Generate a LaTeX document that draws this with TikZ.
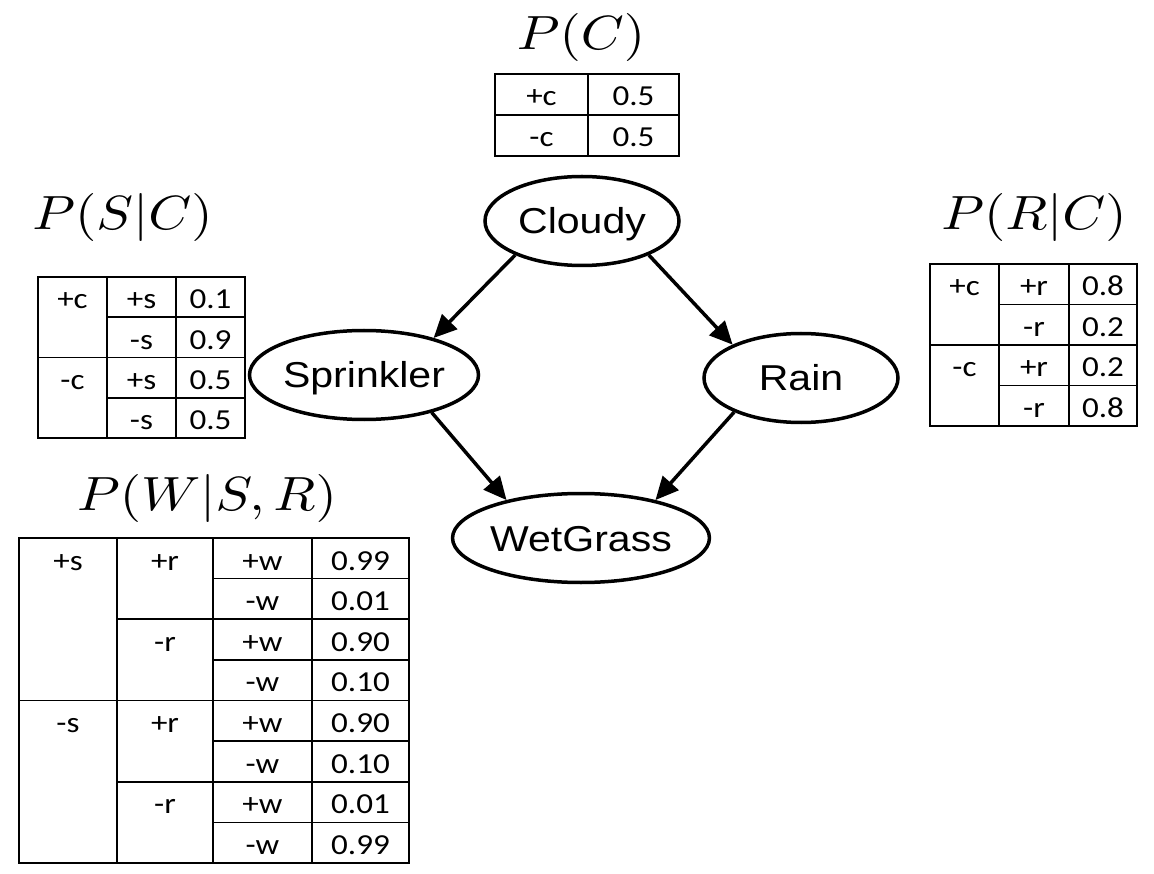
\documentclass[tikz,border=0pt]{standalone}
\usepackage{graphicx}
\usepackage{fontspec}
\setsansfont{Liberation Sans}
\newfontfamily\tabfont{Carlito}
\usetikzlibrary{shapes.geometric,arrows.meta}
\newcommand{\hwide}[1]{\scalebox{1.14}[1]{#1}}
\newcommand{\titlemath}[1]{\scalebox{5.47}[4.8]{$#1$}}
\begin{document}
\begin{tikzpicture}[x=1pt,y=-1pt,
  var/.style={ellipse, draw=black, line width=3.5pt, minimum width=194pt,
    minimum height=89pt, inner sep=0pt, text height=26pt, text depth=0pt,
    font=\fontsize{36}{36}\sffamily},
  edge/.style={line width=3.5pt, -{Triangle[length=23pt,width=21pt]}},
  cell/.style={anchor=base, inner sep=0pt, font=\fontsize{29}{29}\tabfont},
  title/.style={anchor=base, inner sep=0pt},
  grid/.style={line width=1.6pt}]
\useasboundingbox (0,0) rectangle (1154,874);
% network
\node[var] (cloudy) at (582,221) {\hwide{Cloudy}};
\node[var] (sprinkler) at (364,375) {\hwide{Sprinkler}};
\node[var] (rain) at (801,378) {\hwide{Rain}};
\node[var] (wetgrass) at (581,538) {\hwide{WetGrass}};
\draw[edge] (cloudy.207) -- (sprinkler.28);
\draw[edge] (cloudy.333) -- (rain.154);
\draw[edge] (sprinkler.331) -- (wetgrass.153);
\draw[edge] (rain.207) -- (wetgrass.27);
% P(C)
\node[title] (pc) at (581,50) {\titlemath{P(C)}};
\draw[grid] (495,74) rectangle (679,156);
\draw[grid] (588,74) -- (588,156) (495,115) -- (679,115);
\node[cell] (pc-c0) at (541.5,106) {\hwide{+c}};
\node[cell] (pc-p0) at (633.5,106) {\hwide{0.5}};
\node[cell] (pc-c1) at (541.5,147) {\hwide{-c}};
\node[cell] (pc-p1) at (633.5,147) {\hwide{0.5}};
% P(S|C)
\node[title] (psc) at (122.5,230) {\titlemath{P(S|C)}};
\draw[grid] (38,277) rectangle (245,438);
\draw[grid] (107,277) -- (107,438) (176,277) -- (176,438);
\draw[grid] (107,317) -- (245,317) (38,357.5) -- (245,357.5) (107,398) -- (245,398);
\node[cell] (sc-c0) at (72.5,309) {\hwide{+c}};
\node[cell] (sc-c1) at (72.5,389.5) {\hwide{-c}};
\foreach \s/\p [count=\i from 0] in {+s/0.1,-s/0.9,+s/0.5,-s/0.5}{
  \node[cell] (sc-s\i) at (141.5,309+40.25*\i) {\hwide{\s}};
  \node[cell] (sc-p\i) at (210.5,309+40.25*\i) {\hwide{\p}};
}
% P(R|C)
\node[title] (prc) at (1034,230) {\titlemath{P(R|C)}};
\draw[grid] (930,264) rectangle (1137,426);
\draw[grid] (999,264) -- (999,426) (1069,264) -- (1069,426);
\draw[grid] (999,304.5) -- (1137,304.5) (930,345) -- (1137,345) (999,385.5) -- (1137,385.5);
\node[cell] (rc-c0) at (964.5,296) {\hwide{+c}};
\node[cell] (rc-c1) at (964.5,377) {\hwide{-c}};
\foreach \r/\p [count=\i from 0] in {+r/0.8,-r/0.2,+r/0.2,-r/0.8}{
  \node[cell] (rc-r\i) at (1034,296+40.5*\i) {\hwide{\r}};
  \node[cell] (rc-p\i) at (1103,296+40.5*\i) {\hwide{\p}};
}
% P(W|S,R)
\node[title] (pwsr) at (207,510) {\titlemath{P(W|S,R)}};
\draw[grid] (19,538) rectangle (409,863);
\draw[grid] (117,538) -- (117,863) (213,538) -- (213,863) (312,538) -- (312,863);
\foreach \i/\x in {1/213,2/117,3/213,4/19,5/213,6/117,7/213}
  \draw[grid] (\x,538+40.625*\i) -- (409,538+40.625*\i);
\node[cell] (wsr-s0) at (68,570) {\hwide{+s}};
\node[cell] (wsr-s1) at (68,732.5) {\hwide{-s}};
\foreach \r [count=\i from 0] in {+r,-r,+r,-r}
  \node[cell] (wsr-r\i) at (165,570+81.25*\i) {\hwide{\r}};
\foreach \w/\p [count=\i from 0] in {+w/0.99,-w/0.01,+w/0.90,-w/0.10,+w/0.90,-w/0.10,+w/0.01,-w/0.99}{
  \node[cell] (wsr-w\i) at (262.5,570+40.625*\i) {\hwide{\w}};
  \node[cell] (wsr-p\i) at (360.5,570+40.625*\i) {\hwide{\p}};
}
\end{tikzpicture}
\end{document}
